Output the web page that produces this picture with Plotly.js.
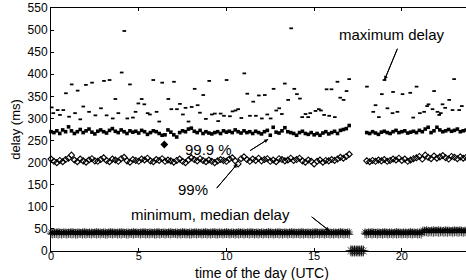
<!DOCTYPE html>
<html>
<head>
<meta charset="utf-8">
<script src="https://cdn.plot.ly/plotly-3.0.1.min.js"></script>
<style>
  html, body { margin: 0; padding: 0; overflow: hidden; background: #fff; }
  #chart { width: 480px; height: 280px; }
</style>
</head>
<body>
<div id="chart"></div>
<script>
// ---------- DATA ----------
// Maximum delay samples: time of day (h) and delay (ms)
const maxT = [0.04,0.13,0.38,0.51,0.70,0.85,1.03,1.18,1.37,1.52,1.67,1.84,1.99,2.17,2.34,2.53,2.85,3.02,3.17,3.34,3.52,3.67,3.84,4.03,4.18,4.35,4.50,4.67,4.82,4.98,5.17,5.32,5.51,5.64,5.83,6.02,6.17,6.34,6.69,6.86,7.01,7.18,7.35,7.52,7.67,7.84,8.02,8.19,8.36,8.49,8.68,8.83,9.02,9.17,9.34,9.53,9.67,9.86,10.01,10.20,10.35,10.52,10.67,10.85,11.02,11.19,11.34,11.53,11.68,11.85,12.02,12.19,12.33,12.52,12.69,12.84,13.01,13.16,13.33,13.52,13.69,13.87,14.02,14.19,14.32,14.51,14.66,14.78,15.08,15.27,15.39,15.57,15.71,15.86,15.99,16.18,16.33,16.49,16.68,16.85,17.00,18.01,18.37,18.50,18.69,18.86,19.01,19.18,19.47,19.50,19.75,20.04,20.48,20.65,20.84,21.03,21.27,21.44,21.52,21.75,21.84,22.03,22.13,22.22,22.32,22.47,22.70,22.89,22.98,23.27,23.42];
const maxV = [325,312,319,308,319,357,304,377,312,363,298,327,376,315,381,307,323,385,307,387,300,344,312,404,498,300,377,302,315,334,344,332,312,309,387,315,293,381,344,321,383,321,333,309,324,293,326,367,330,313,353,299,385,309,311,294,311,306,387,305,316,318,321,301,402,356,306,338,306,352,300,353,309,300,367,318,323,310,379,342,504,367,355,345,303,310,303,312,317,321,318,308,366,306,366,303,383,347,342,362,389,372,315,330,303,355,387,323,312,360,315,355,358,302,372,312,315,328,332,321,362,315,308,312,332,324,342,319,389,319,328];

// 99.9 % and 99 % percentiles, sampled every 10 minutes
// segment A: 0.0 h .. 17.0 h, segment B: 18.0 h .. 24.0 h
const p999A = [270,268,272,266,274,270, 281,272,266,270,275,268, 272,276,269,265,271,274, 270,267,273,277,271,268,
  274,270,266,272,269,271, 267,273,270,264,268,272, 270,266,262,263,274,269, 263,258,268,272,270,276,
  278,271,268,273,266,270, 267,265,268,270,266,272, 269,271,268,274,270,267, 272,268,270,266,271,268,
  265,270,273,262,280,269, 267,272,279,270,268,266, 262,268,271,266,264,268, 263,266,262,267,270,265,
  268,271,266,273,275,277, 284];
const p999B = [268,266,270,267,264,269, 271,268,266,270,273,268, 270,272,267,269,271,268, 273,270,276,280,268,272,
  280,274,270,272,275,271, 273,276,270,272,274,271, 273];
const p99A = [208,203,200,205,202,207, 210,217,206,202,208,204, 201,206,209,204,203,207, 211,205,202,208,206,203,
  209,212,204,201,207,205, 203,208,206,210,204,202, 207,205,209,203,206,204, 201,205,208,203,200,206,
  211,207,204,209,205,202, 206,203,200,204,207,205, 203,208,211,204,197,209, 213,207,203,208,205,210,
  204,207,209,203,206,202, 209,207,204,206,210,205, 207,210,204,201,206,203, 197,203,206,201,205,204,
  207,205,208,212,210,214, 219];
const p99B = [204,202,205,203,206,204, 207,203,205,208,206,210, 205,208,203,206,209,211, 214,208,217,212,209,215,
  210,213,216,211,208,214, 212,209,213,210,212,208, 211];
// single outlier point
const outT = [6.46];
const outV = [241];

// minimum and median delay, sampled every 6 minutes
// segment A: 0.0..17.0 h, segment Z: 17.1..17.8 h, segment B: 17.9..24.0 h
const minA = [39,38,39,39,38,39,38,39,39,38, 39,39,38,39,38,38,39,39,38,39, 38,39,39,38,39,39,38,39,38,39,
  39,38,38,39,39,38,39,39,38,39, 38,39,39,38,38,39,39,38,39,39, 39,38,39,39,38,39,38,39,39,38,
  38,39,38,39,39,38,39,39,38,39, 39,39,38,39,38,39,39,38,39,38, 38,39,39,38,39,39,38,39,39,38,
  39,38,39,39,38,38,39,39,38,39, 39,39,38,39,39,38,39,38,39,39, 38,39,39,38,39,39,38,39,38,39,
  39,38,39,39,38,39,39,38,39,39, 38,39,38,39,39,38,39,39,38,39, 39,39,38,39,38,39,39,38,39,38,
  38,39,39,38,39,39,38,39,39,38, 39,38,39,39,38,39,39,38,39,39, 38];
const minZ = [0,0,0,0,0,0,0,0];
const minB = [39,38,39,39,38,39,39,38,39,39, 38,39,39,38,39,39,38,39,38,39, 39,38,39,39,38,39,39,38,39,39,
  38,39,38, 42,43,43,42,43,43,42,43,43,42, 43,43,42,43,42,43,43,42,43,43, 42,43,43,42,43,43,42,43,43];
const medA = [43,42,43,43,44,43,42,43,43,42, 43,43,44,43,42,43,43,42,43,44, 43,42,43,43,42,43,44,43,43,42,
  43,43,42,43,44,43,43,42,43,43, 44,43,42,43,43,42,43,44,43,43, 42,43,43,44,43,42,43,43,42,43,
  43,44,43,42,43,43,42,43,44,43, 42,43,43,42,43,44,43,43,42,43, 43,42,44,43,43,42,43,43,44,43,
  42,43,43,44,43,42,43,43,42,43, 44,43,42,43,43,42,43,44,43,43, 43,42,43,43,44,43,42,43,43,42,
  43,43,42,43,44,43,43,42,43,43, 44,43,42,43,43,42,43,44,43,43, 42,43,43,44,43,42,43,43,42,43,
  43,44,43,42,43,43,42,43,44,43, 42,43,43,42,43,44,43,43,42,43, 43];
const medZ = [1,0,1,0,1,0,1,0];
const medB = [43,42,43,43,44,43,42,43,43,42, 43,44,43,42,43,43,42,43,44,43, 43,42,43,43,42,43,44,43,43,42,
  43,43,42, 47,47,48,47,46,47,48,47,47,48, 47,46,47,48,47,47,46,47,48,47, 47,48,47,46,47,47,48,47,47];

const xTicks = [0, 5, 10, 15, 20];
const yTicks = [0, 50, 100, 150, 200, 250, 300, 350, 400, 450, 500, 550];

// ---------- helpers ----------
const grid = (start, step, n) => Array.from({length: n}, (_, i) => +(start + i * step).toFixed(4));
const tA = grid(0, 1/6, p999A.length);
const tB = grid(18, 1/6, p999B.length);
const mtA = grid(0, 0.1, minA.length);
const mtZ = grid(17.1, 0.1, minZ.length);
const mtB = grid(17.9, 0.1, minB.length);

const minT = mtA.concat(mtZ, mtB), minV = minA.concat(minZ, minB);
const medT = mtA.concat(mtZ, mtB), medV = medA.concat(medZ, medB);

const black = '#000';
const traces = [
  {name: 'maximum delay', x: maxT, y: maxV, type: 'scatter', mode: 'markers', cliponaxis: false,
   marker: {symbol: 'line-ew-open', size: 2.6, color: black, line: {color: black, width: 1.8}}},
  {name: '99.9 %', x: tA.concat(tB), y: p999A.concat(p999B), type: 'scatter', mode: 'markers', cliponaxis: false,
   marker: {symbol: 'square', size: 3.6, color: black, line: {width: 0}}},
  {name: '99%', x: tA.concat(tB), y: p99A.concat(p99B), type: 'scatter', mode: 'markers', cliponaxis: false,
   marker: {symbol: 'diamond-open', size: 4.6, color: black, line: {color: black, width: 1.1}}},
  {name: 'outlier', x: outT, y: outV, type: 'scatter', mode: 'markers', cliponaxis: false,
   marker: {symbol: 'diamond', size: 6, color: black}},
  {name: 'minimum delay', x: minT, y: minV, type: 'scatter', mode: 'markers', cliponaxis: false,
   marker: {symbol: 'cross-thin-open', size: minV.map(v => v < 5 ? 8 : 6), color: black, line: {color: black, width: 1.1}}},
  {name: 'median delay', x: medT, y: medV, type: 'scatter', mode: 'markers', cliponaxis: false,
   marker: {symbol: 'asterisk-open', size: medV.map(v => v < 5 ? 8 : 6), color: black, line: {color: black, width: 1}}}
];

// pointer arrows: [head x, head y, tail x, tail y] in data units
const pointers = [
  [19.01, 387, 19.75, 458],
  [12.38, 253, 11.34, 227],
  [10.62, 197, 9.44, 142],
  [15.86, 46, 14.85, 77.6]
];

const annFont = {family: 'Liberation Sans, Arial, sans-serif', size: 15, color: black};
const arrow = (p) => ({x: p[0], y: p[1], ax: p[2], ay: p[3], axref: 'x', ayref: 'y', xref: 'x', yref: 'y',
  text: '', font: {size: 1}, borderpad: 0, showarrow: true, arrowhead: 2, arrowsize: 0.8, arrowwidth: 1,
  arrowcolor: black, standoff: 0, startstandoff: 0});
const shaft = (p) => ({type: 'line', xref: 'x', yref: 'y', x0: p[2], y0: p[3], x1: p[0], y1: p[1],
  line: {color: black, width: 1}, layer: 'above'});
const label = (x, y, t) => ({x: x, y: y, xref: 'x', yref: 'y', text: t, showarrow: false, font: annFont,
  xanchor: 'center', yanchor: 'middle'});

const layout = {
  width: 480, height: 280,
  margin: {l: 51, r: 8, t: 8, b: 29, pad: 0},
  paper_bgcolor: '#fff', plot_bgcolor: '#fff',
  showlegend: false,
  font: {family: 'Liberation Sans, Arial, sans-serif', size: 12, color: black},
  xaxis: {range: [0, 24], tickvals: xTicks, ticktext: xTicks.map(String), ticks: 'inside', ticklen: 3,
    tickcolor: black, showline: true, linecolor: black, linewidth: 1, mirror: 'ticks', showgrid: false,
    zeroline: false, layer: 'below traces', tickfont: {size: 11}, ticklabelstandoff: -5},
  yaxis: {range: [0, 550], tickvals: yTicks, ticktext: yTicks.map(String), ticks: 'inside', ticklen: 3,
    tickcolor: black, showline: true, linecolor: black, linewidth: 1, mirror: 'ticks', showgrid: false,
    zeroline: false, layer: 'below traces', tickfont: {size: 12},
    title: {text: 'delay (ms)', font: {size: 13}, standoff: 4}},
  shapes: pointers.map(shaft),
  annotations: [
    {x: 0.5, y: -0.0905, xref: 'paper', yref: 'paper', text: 'time of the day (UTC)', showarrow: false,
     font: {family: 'Liberation Sans, Arial, sans-serif', size: 14, color: black}, xanchor: 'center', yanchor: 'middle'},
    label(19.44, 489, 'maximum delay'),
    label(8.99, 230, '99.9 %'),
    label(8.07, 140, '99%'),
    label(9.11, 81.5, 'minimum, median delay')
  ].concat(pointers.map(arrow))
};

Plotly.newPlot('chart', traces, layout, {staticPlot: true, displayModeBar: false});
</script>
</body>
</html>
